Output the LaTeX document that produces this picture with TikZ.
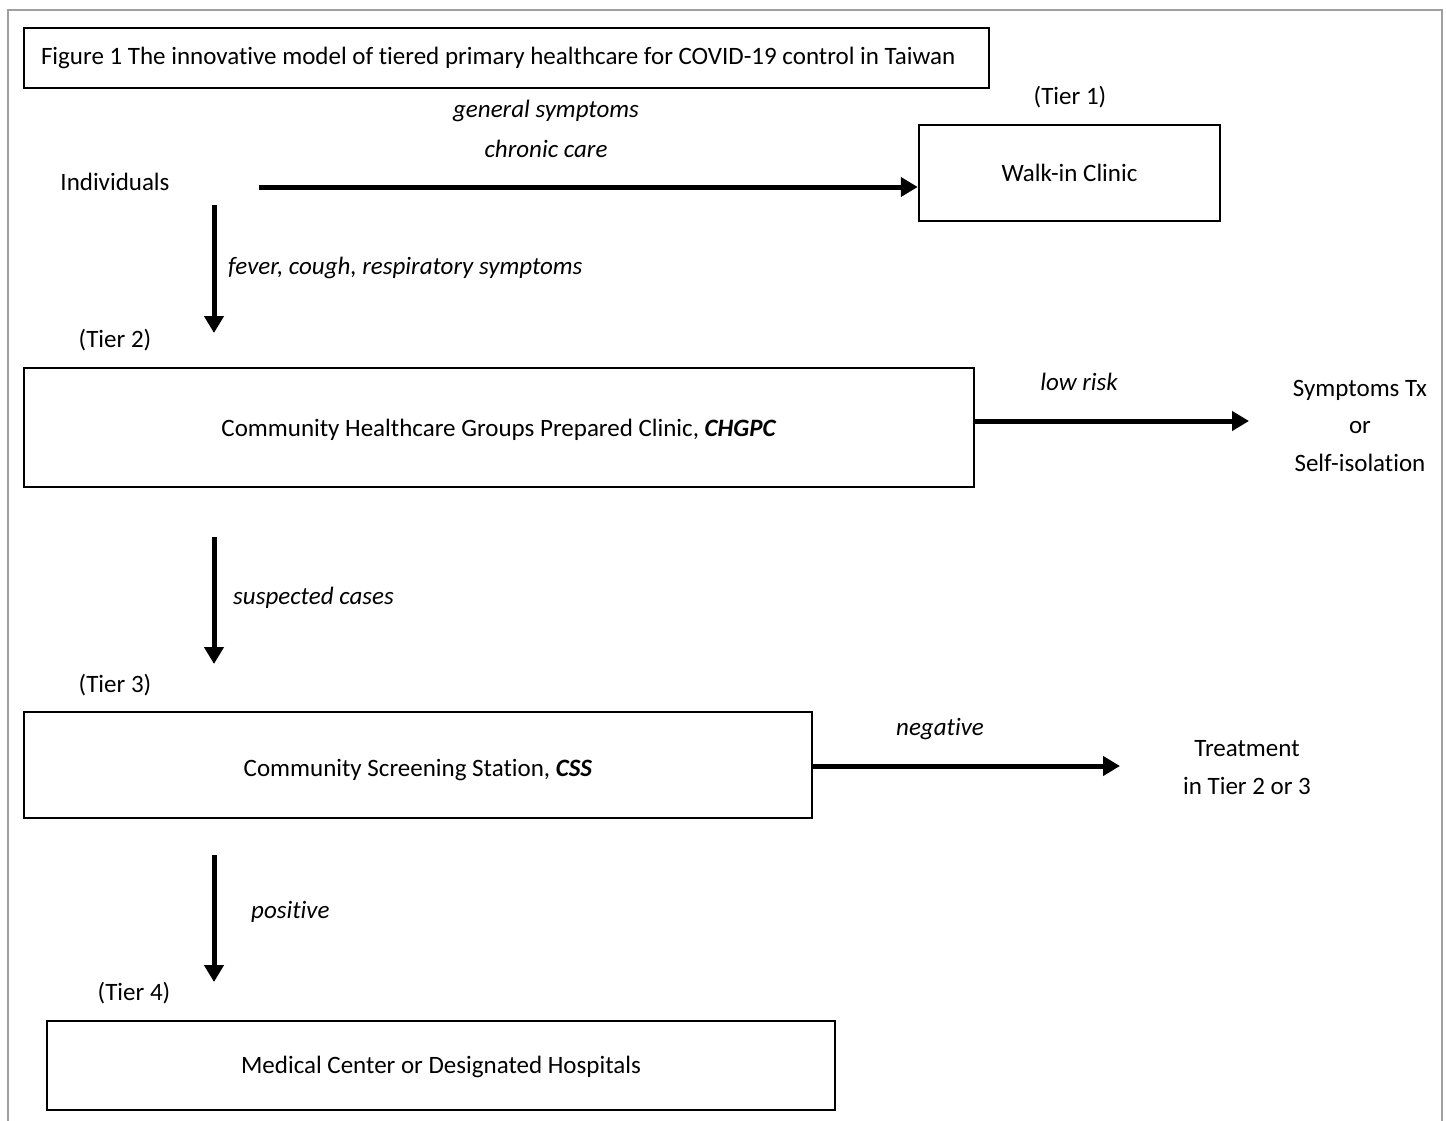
\documentclass[tikz,border=0pt]{standalone}
\usepackage{fontspec}
\setmainfont{Carlito}[Ligatures={NoCommon,NoContextual,NoRequired}]
\usetikzlibrary{arrows.meta}
\tikzset{
	box/.style={draw,line width=2.5pt,inner sep=0pt,text depth=0pt},
	txt/.style={font=\fontsize{25}{37.5}\selectfont,inner sep=0pt},
	cue/.style={font=\fontsize{25}{37.5}\selectfont\itshape,inner sep=0pt},
	flow/.style={line width=5pt,-{Triangle[length=17pt,width=19pt]}}
}

\begin{document}
\begin{tikzpicture}[x=1pt,y=-1pt]
\useasboundingbox (0,0) rectangle (1446,1121);
% Frame
\draw [gray!75,line width=1.5pt] (8,1121) -- (8,10) -- (1442,10) -- (1442,1121);
% Title
\node [box,txt,text height=13pt,minimum width=965pt,minimum height=60pt,text width=931pt,align=flush left] (title) at (506.5,58) {Figure 1 The innovative model of tiered primary healthcare for COVID-19 control in Taiwan};
% Tier 1
\node [txt] (tier1) at (1070,97) {(Tier 1)};
\node [box,txt,text height=17.4pt,minimum width=301pt,minimum height=96pt] (walkin) at (1069.5,173) {Walk-in Clinic};
\node [txt] (ind) at (115,182) {Individuals};
\node [cue] (gen) at (546,111) {general symptoms};
\node [cue] (chron) at (546,149) {chronic care};
\coordinate (indout) at (259,187);
\draw [flow] (indout) -- (walkin.west |- indout);
% Tier 2
\coordinate (v1top) at (214,205);
\coordinate (v1bot) at (214,333);
\draw [flow] (v1top) -- (v1bot);
\node [cue,anchor=west] (fever) at (228,268) {fever, cough, respiratory symptoms};
\node [txt] (tier2) at (115,340) {(Tier 2)};
\node [box,txt,text height=18.4pt,minimum width=950pt,minimum height=119pt] (chgpc) at (499,427.5) {Community Healthcare Groups Prepared Clinic, \textbf{\textit{CHGPC}}};
\coordinate (isoin) at (1249,421);
\draw [flow] (chgpc.east |- isoin) -- (isoin);
\node [cue] (low) at (1079,382) {low risk};
\node [txt,align=center] (iso) at (1360,425.5) {Symptoms Tx\\or\\Self-isolation};
% Tier 3
\coordinate (v2top) at (214,537);
\coordinate (v2bot) at (214,664);
\draw [flow] (v2top) -- (v2bot);
\node [cue,anchor=west] (susp) at (233,598) {suspected cases};
\node [txt] (tier3) at (115,685) {(Tier 3)};
\node [box,txt,text height=22pt,minimum width=788pt,minimum height=106pt] (css) at (418,765) {Community Screening Station, \textbf{\textit{CSS}}};
\coordinate (trin) at (1120,766);
\draw [flow] (css.east |- trin) -- (trin);
\node [cue] (neg) at (940,729) {negative};
\node [txt,align=center] (treat) at (1247,767.5) {Treatment\\in Tier 2 or 3};
% Tier 4
\coordinate (v3top) at (214,855);
\coordinate (v3bot) at (214,982);
\draw [flow] (v3top) -- (v3bot);
\node [cue,anchor=west] (pos) at (251,912) {positive};
\node [txt] (tier4) at (134,993) {(Tier 4)};
\node [box,txt,text height=15.6pt,minimum width=788pt,minimum height=89pt] (med) at (441,1065.5) {Medical Center or Designated Hospitals};
\end{tikzpicture}
\end{document}
